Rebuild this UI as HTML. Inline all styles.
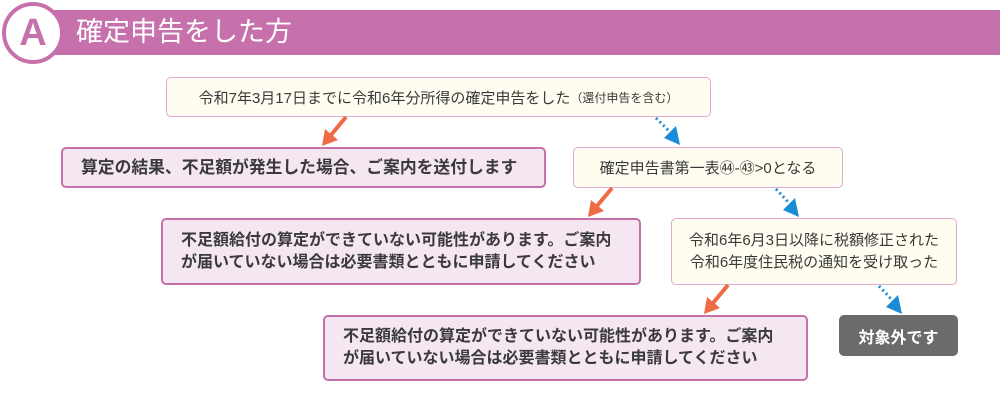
<!DOCTYPE html>
<html><head><meta charset="utf-8"><style>
body{margin:0;width:1000px;height:417px;background:#fff;position:relative;overflow:hidden;font-family:"Liberation Sans","Noto Sans CJK JP",sans-serif;color:#3a3a3a}
.b{position:absolute;box-sizing:border-box;border-radius:5px;display:flex;align-items:center;justify-content:center;text-align:center}
.c{background:#fefdf0;border:1.5px solid #e2a9d2;font-size:15px}
.p{background:#f5e7f2;border:2px solid #c671ac;font-size:16px;font-weight:bold;justify-content:flex-start;text-align:left;padding-left:18px;line-height:22px}
</style></head><body>
<div style="position:absolute;left:40px;top:10px;width:960px;height:45px;background:#c671ac"></div>
<div style="position:absolute;left:2px;top:2px;width:54px;height:54px;border-radius:50%;background:#fff;border:4px solid #c671ac;color:#c671ac;font-size:38px;font-weight:bold;text-align:center;line-height:54px">A</div>
<div style="position:absolute;left:76px;top:13px;color:#fff;font-size:27px;line-height:38px">確定申告をした方</div>
<div class="b c" style="left:166px;top:77px;width:545px;height:40px">令和7年3月17日までに令和6年分所得の確定申告をした<span style="font-size:12px">（還付申告を含む）</span></div>
<div class="b p" style="left:61px;top:147px;width:485px;height:41px;font-size:16.8px">算定の結果、不足額が発生した場合、ご案内を送付します</div>
<div class="b c" style="left:573px;top:147px;width:270px;height:41px">確定申告書第一表㊹-㊸&gt;0となる</div>
<div class="b p" style="left:161px;top:218px;width:480px;height:67px">不足額給付の算定ができていない可能性があります。ご案内<br>が届いていない場合は必要書類とともに申請してください</div>
<div class="b c" style="left:671px;top:218px;width:286px;height:67px;line-height:22px">令和6年6月3日以降に税額修正された<br>令和6年度住民税の通知を受け取った</div>
<div class="b p" style="left:323px;top:315px;width:485px;height:66px">不足額給付の算定ができていない可能性があります。ご案内<br>が届いていない場合は必要書類とともに申請してください</div>
<div class="b" style="left:839px;top:315px;width:119px;height:41px;background:#6b6b6d;color:#fff;font-size:16px;font-weight:bold">対象外です</div>
<svg width="1000" height="417" style="position:absolute;left:0;top:0">
<g stroke="#ef6b45" stroke-width="4"><line x1="346" y1="117" x2="331" y2="135"/><line x1="612" y1="188" x2="597" y2="206"/><line x1="728" y1="285" x2="713" y2="303"/></g>
<g fill="#ef6b45"><polygon points="322,146 325,129 338,140"/><polygon points="588,217 591,200 604,211"/><polygon points="704,314 707,297 720,308"/></g>
<g stroke="#1a8bd6" stroke-width="3" stroke-dasharray="2,3"><line x1="656" y1="118" x2="671" y2="133"/><line x1="776" y1="189" x2="790" y2="204"/><line x1="879" y1="286" x2="893" y2="301"/></g>
<g fill="#1a8bd6"><polygon points="680,145 664,138 676,126"/><polygon points="799,217 783,210 795,198"/><polygon points="902,314 886,307 898,295"/></g>
</svg>
</body></html>
